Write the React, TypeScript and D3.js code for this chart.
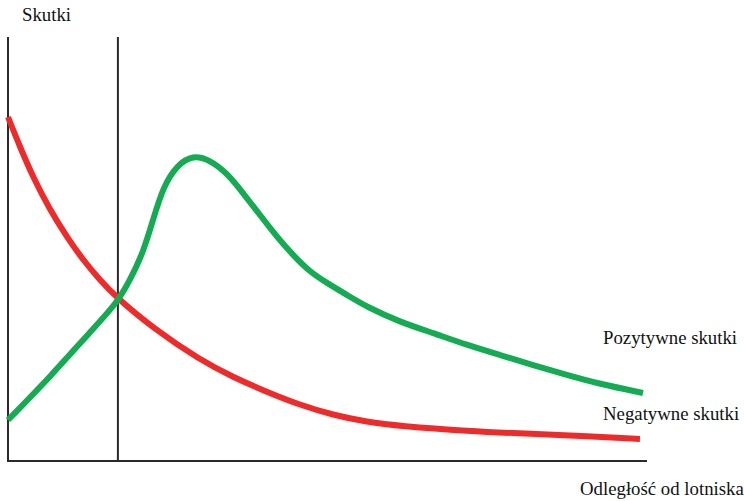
import React from "react";
import * as d3 from "d3";

const markerX = 17.2;

const greenX = [0, 6.57, 12.83, 17.06, 19.09, 21.13, 22.69, 24.26, 26.45, 28.95, 31.61, 34.27, 36.78, 39.44, 42.1, 44.6, 47.26, 49.92, 53.05, 56.18, 61.35, 66.51, 71.83, 77.0, 82.16, 87.48, 92.64, 99.37];
const greenY = [9.67, 19.81, 30.42, 37.26, 42.69, 49.06, 56.84, 64.62, 69.81, 72.17, 70.99, 67.92, 63.21, 58.02, 52.83, 48.58, 44.58, 41.98, 39.15, 36.32, 32.78, 30.19, 27.36, 25.0, 22.64, 20.28, 18.16, 16.04];

const redX = [0, 1.88, 3.91, 6.57, 9.23, 11.74, 14.4, 17.06, 22.69, 30.05, 35.21, 40.53, 45.7, 50.86, 56.18, 61.35, 71.83, 82.16, 90.61, 98.9];
const redY = [81.13, 74.06, 66.98, 59.2, 52.83, 47.41, 42.69, 38.44, 31.37, 23.82, 19.81, 16.27, 13.21, 10.85, 9.2, 8.25, 7.08, 6.37, 5.9, 5.19];

const labels = {
  yAxis: "Skutki",
  xAxis: "Odległość od lotniska",
  positive: "Pozytywne skutki",
  negative: "Negatywne skutki",
};

export default function App() {
  const W = 744;
  const H = 501;
  const x = d3.scaleLinear().domain([0, 100]).range([8, 647]);
  const y = d3.scaleLinear().domain([0, 100]).range([461, 37]);

  const line = d3
    .line<[number, number]>()
    .x((d) => x(d[0]))
    .y((d) => y(d[1]))
    .curve(d3.curveBasis);

  const green: [number, number][] = greenX.map((v, i) => [v, greenY[i]]);
  const red: [number, number][] = redX.map((v, i) => [v, redY[i]]);

  const font = "'Liberation Serif', 'Times New Roman', serif";
  const fs = 18.8;

  return (
    <svg
      width={W}
      height={H}
      style={{ position: "absolute", left: 0, top: 0, background: "#fff" }}
    >
      <line x1={x(0)} x2={x(0)} y1={y(100)} y2={y(0)} stroke="#2a2a2a" strokeWidth={2} />
      <line x1={x(0) - 1} x2={x(100)} y1={y(0)} y2={y(0)} stroke="#2a2a2a" strokeWidth={2} />
      <line x1={x(markerX)} x2={x(markerX)} y1={y(100)} y2={y(0)} stroke="#2a2a2a" strokeWidth={2} />
      <path d={line(red) || ""} fill="none" stroke="#ee2b2b" strokeWidth={6} strokeLinecap="butt" />
      <path d={line(green) || ""} fill="none" stroke="#15ab52" strokeWidth={6} strokeLinecap="butt" />
      <text x={22} y={21} fontFamily={font} fontSize={fs} fill="#111">{labels.yAxis}</text>
      <text x={603} y={344} fontFamily={font} fontSize={fs} fill="#111">{labels.positive}</text>
      <text x={603} y={420} fontFamily={font} fontSize={fs} fill="#111">{labels.negative}</text>
      <text x={580} y={495} fontFamily={font} fontSize={fs} fill="#111">{labels.xAxis}</text>
    </svg>
  );
}
